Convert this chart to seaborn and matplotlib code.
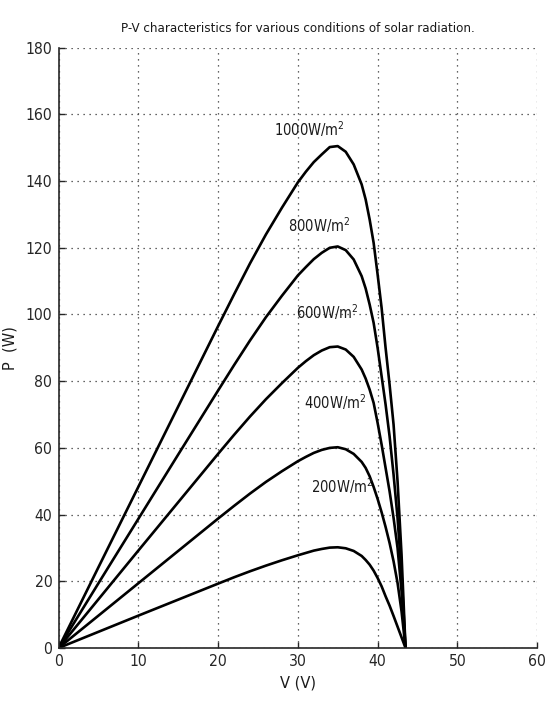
import numpy as np
import pandas as pd
import matplotlib
matplotlib.use("Agg")
import matplotlib.pyplot as plt
from matplotlib import font_manager
import seaborn as sns

# ---- data ----
voltage = [0, 5, 10, 15, 20, 22, 24, 26, 28, 30, 31, 32, 33, 34, 35, 36, 37, 38,
           38.5, 39, 39.5, 40, 40.5, 41, 41.5, 42, 42.5, 43, 43.5]
p_1000 = [0, 24.2, 48.3, 72.4, 96.5, 106, 115.3, 124, 132, 139.6, 142.8, 145.7, 148, 150.2,
          150.5, 148.8, 145, 139, 134.5, 128.5, 121.5, 112, 102, 90, 79, 67, 50, 28, 0]
p_800 = [0, 19.4, 38.7, 58, 77.2, 84.8, 92.2, 99.2, 105.6, 111.7, 114.2, 116.6, 118.5, 120,
         120.4, 119.3, 116.5, 111.5, 107.8, 103, 97.5, 90, 81.5, 73, 63.5, 52, 39, 22, 0]
p_600 = [0, 14.6, 29.2, 43.7, 58.2, 63.9, 69.4, 74.6, 79.4, 84, 86, 87.8, 89.2, 90.2,
         90.4, 89.5, 87.3, 83.5, 80.8, 77.5, 73.5, 67.5, 61, 54, 47, 39, 30, 17, 0]
p_400 = [0, 9.7, 19.4, 29.1, 38.8, 42.6, 46.3, 49.8, 53, 56, 57.3, 58.5, 59.4, 60,
         60.2, 59.6, 58.2, 55.8, 54, 51.5, 48.3, 44.7, 40.7, 36.3, 31.5, 26, 19.5, 11, 0]
p_200 = [0, 4.85, 9.7, 14.5, 19.3, 21.2, 23, 24.7, 26.3, 27.8, 28.5, 29.2, 29.7, 30.1,
         30.2, 29.9, 29.1, 27.6, 26.4, 25, 23.2, 21, 18.5, 15.5, 12.7, 9.6, 6.4, 3.2, 0]

irradiance = ["1000W/m$^2$", "800W/m$^2$", "600W/m$^2$", "400W/m$^2$", "200W/m$^2$"]
label_v = [27.0, 28.8, 29.8, 30.8, 31.6]
label_p = [155.5, 126.8, 100.8, 73.8, 48.4]

x_ticks = [0, 10, 20, 30, 40, 50, 60]
y_ticks = [0, 20, 40, 60, 80, 100, 120, 140, 160, 180]

title = "P-V characteristics for various conditions of solar radiation."
x_label = "V (V)"
y_label = "P  (W)"

rows = []
for name, series in zip(irradiance, [p_1000, p_800, p_600, p_400, p_200]):
    for v, p in zip(voltage, series):
        rows.append({"V": v, "P": p, "G": name})
df = pd.DataFrame(rows)

sns.set_style("white")

# pick a narrow font if one is installed
entries = font_manager.fontManager.ttflist
names = {f.name for f in entries}
stretch = "normal"
if "Liberation Sans Narrow" in names:
    fam = "Liberation Sans Narrow"
    k = 1.0
elif any(f.name == "DejaVu Sans" and str(f.stretch) in ("condensed", "semi-condensed") for f in entries):
    fam = "DejaVu Sans"
    stretch = "condensed"
    k = 0.9
else:
    fam = "Liberation Sans"
    k = 0.86
plt.rcParams["font.family"] = [fam, "DejaVu Sans"]
plt.rcParams["font.stretch"] = stretch
plt.rcParams["mathtext.fontset"] = "custom"
plt.rcParams["mathtext.rm"] = fam

fig = plt.figure(figsize=(5.47, 7.15), dpi=100)
ax = fig.add_axes([0.107, 0.0937, 0.875, 0.8396])

sns.lineplot(data=df, x="V", y="P", hue="G", palette=["black"] * 5,
             linewidth=1.9, legend=False, ax=ax, sort=False, estimator=None)

ax.set_xlim(0, 60)
ax.set_ylim(0, 180)
ax.set_xticks(x_ticks)
ax.set_yticks(y_ticks)
ax.grid(True, color="0.2", linestyle=(0, (1, 3.8)), linewidth=0.9)
for s in ["top", "right"]:
    ax.spines[s].set_visible(False)
for s in ["left", "bottom"]:
    ax.spines[s].set_color("0.15")
    ax.spines[s].set_linewidth(1.2)
ax.tick_params(direction="in", length=4, width=1, color="0.15",
               labelsize=12.5 * k, pad=4.5, left=True, bottom=True)

for t, v, p in zip(irradiance, label_v, label_p):
    ax.text(v, p, t, fontsize=11.7 * k, ha="left", va="center", color="0.1")

ax.set_title(title, fontsize=10.6 * k, pad=11, color="0.1")
ax.set_xlabel(x_label, fontsize=13 * k, color="0.1")
ax.set_ylabel(y_label, fontsize=13 * k, color="0.1")
ax.yaxis.set_label_coords(-0.085, 0.5)
ax.xaxis.set_label_coords(0.5, -0.046)

fig.savefig("out.png", dpi=100, facecolor="white")
